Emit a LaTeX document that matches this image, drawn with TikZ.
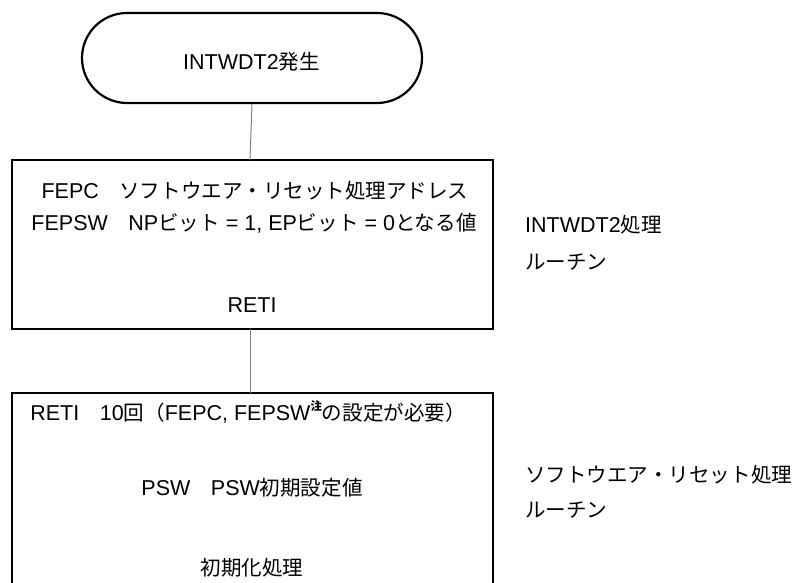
\documentclass[tikz,border=0pt]{standalone}
\usepackage{fontspec}
\setmainfont{Liberation Sans}
\newfontfamily\jp[Scale=0.955]{Noto Sans CJK JP}
\newcommand{\J}[1]{{\jp #1}}
\begin{document}
\begin{tikzpicture}[x=1pt,y=-1pt,
  txt/.style={inner sep=0pt,font=\fontsize{21.5pt}{26pt}\selectfont},
  frame/.style={draw=black,line width=2.2pt},
  link/.style={draw=black!50,line width=1pt}]
\useasboundingbox (0,0) rectangle (803,583);
% terminal
\node[frame,rounded corners=45pt,minimum width=340pt,minimum height=90pt,inner sep=0pt] (start) at (252,58) {};
\node[txt,anchor=base] (tstart) at (251.5,70) {INTWDT2\J{発生}};
% box 1
\path[frame] (12,160) rectangle (493,329);
\coordinate (b1n) at (250,160);
\coordinate (b1s) at (250,329);
\node[txt,anchor=base] (l11) at (255,198) {FEPC\J{　ソフトウエア・リセット処理アドレス}};
\node[txt,anchor=base] (l12) at (254,230) {FEPSW\J{　}NP\J{ビット} = 1, EP\J{ビット} = 0\J{となる値}};
\node[txt,anchor=base] (l13) at (252,312) {RETI};
% box 2 (open at the bottom)
\path[frame] (12,600) -- (12,393) -- (493,393) -- (493,600);
\coordinate (b2n) at (250,393);
\node[txt,anchor=base] (l21) at (248,420) {RETI\J{　}10\J{回（}FEPC, FEPSW\raisebox{0.45em}{\fontsize{12pt}{12pt}\selectfont\jp\bfseries 注}\J{の設定が必要）}};
\node[txt,anchor=base] (l22) at (252,495) {PSW\J{　}PSW\J{初期設定値}};
\node[txt,anchor=base] (l23) at (252,575) {\J{初期化処理}};
% connectors
\draw[link] (start.south) -- (b1n);
\draw[link] (b1s) -- (b2n);
% side labels
\node[txt,anchor=base west] (r1) at (525,232) {INTWDT2\J{処理}};
\node[txt,anchor=base west] (r2) at (525,269) {\J{ルーチン}};
\node[txt,anchor=base west] (r3) at (525,482) {\J{ソフトウエア・リセット処理}};
\node[txt,anchor=base west] (r4) at (525,517) {\J{ルーチン}};
\end{tikzpicture}
\end{document}
